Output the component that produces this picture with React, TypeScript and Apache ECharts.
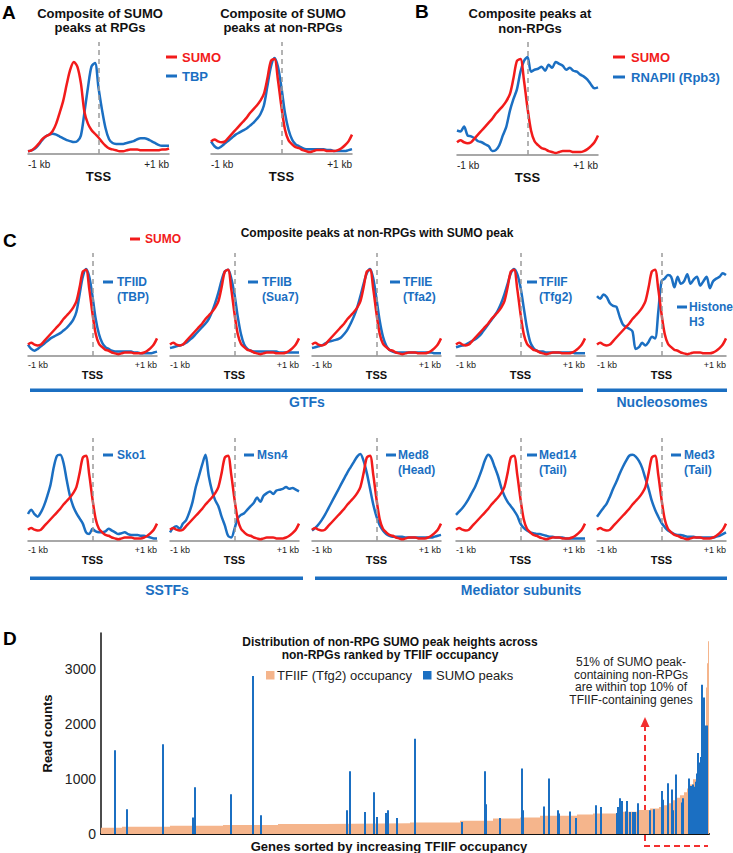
import React, { useEffect, useRef } from "react";
import * as echarts from "echarts";

const FONT = '"Liberation Sans", Arial, Helvetica, sans-serif';
const RED = "#f21b1b";
const BLUE = "#1b6fc2";
const ORANGE = "#f5b58c";

// ---------- composite profiles (position relative to TSS, bp) ----------
const POS_BP = [-1000, -950, -900, -850, -800, -750, -700, -650, -600, -550, -500, -450, -400, -350, -300, -250, -200, -150, -100, -50, 0, 50, 100, 150, 200, 250, 300, 350, 400, 450, 500, 550, 600, 650, 700, 750, 800, 850, 900, 950, 1000];
const TICK_LABELS = ["-1 kb", "+1 kb"];

const SUMO_RPG = [3, 4, 7, 11, 16, 19, 21, 25, 33, 45, 58, 76, 92, 100, 95, 77, 46, 33, 26, 22, 18, 13, 9, 6, 5, 4, 3, 3, 4, 5, 5, 5, 4, 4, 4, 4, 4, 4, 5, 5, 6];
const TBP_RPG = [3, 4, 6, 10, 15, 19, 21, 22, 21, 19, 17, 15, 14, 13, 14, 20, 45, 72, 95, 99, 72, 48, 28, 16, 12, 11, 11, 11, 12, 13, 14, 16, 17, 17, 16, 14, 12, 10, 9, 9, 9];
const SUMO_NONRPG = [13, 15, 13, 12, 13, 17, 21, 25, 29, 33, 37, 42, 46, 50, 55, 62, 78, 96, 98, 76, 48, 25, 14, 10, 7, 6, 4, 3, 2, 3, 4, 4, 4, 3, 3, 3, 4, 6, 9, 13, 20];
const TFIID_TBP = [13, 8, 6, 8, 11, 14, 17, 20, 22, 24, 26, 29, 32, 36, 41, 50, 70, 90, 99, 90, 68, 42, 25, 15, 10, 8, 6, 5, 5, 5, 5, 5, 5, 4, 4, 3, 3, 3, 3, 4, 5];
const RNAPII = [25, 24, 29, 20, 19, 17, 14, 13, 11, 9, 4, 5, 10, 20, 29, 45, 57, 67, 85, 96, 100, 85, 87, 88, 90, 86, 92, 89, 95, 93, 91, 87, 89, 86, 85, 82, 80, 77, 72, 68, 69];
const TFIIB = [9, 10, 11, 12, 13, 15, 18, 21, 25, 29, 33, 37, 42, 50, 60, 72, 86, 96, 98, 88, 70, 45, 25, 13, 8, 6, 5, 5, 5, 5, 5, 5, 5, 5, 4, 4, 4, 4, 4, 4, 4];
const TFIIE = [9, 10, 11, 12, 14, 16, 17, 18, 19, 21, 25, 30, 37, 45, 55, 68, 82, 94, 99, 88, 65, 40, 22, 12, 7, 5, 4, 4, 4, 4, 4, 4, 4, 4, 4, 4, 4, 4, 3, 3, 3];
const TFIIF = [10, 11, 12, 13, 15, 17, 19, 22, 26, 31, 36, 41, 46, 52, 60, 70, 82, 94, 99, 93, 78, 55, 32, 16, 9, 6, 5, 5, 4, 4, 4, 4, 4, 4, 4, 4, 4, 3, 3, 3, 3];
const HISTONE_H3 = [68, 65, 70, 67, 60, 57, 56, 45, 36, 33, 31, 28, 8, 10, 15, 12, 16, 22, 20, 50, 85, 88, 92, 90, 78, 90, 82, 85, 93, 82, 87, 90, 80, 85, 90, 77, 85, 88, 90, 94, 92];
const SKO1 = [31, 36, 31, 28, 33, 41, 52, 65, 85, 98, 99, 90, 70, 52, 40, 32, 26, 20, 10, 8, 14, 11, 10, 10, 11, 14, 12, 10, 8, 9, 10, 8, 7, 7, 7, 6, 6, 5, 4, 3, 3];
const MSN4 = [10, 15, 17, 14, 20, 24, 33, 45, 62, 75, 88, 99, 75, 58, 47, 40, 28, 18, 6, 4, 14, 26, 30, 32, 36, 40, 44, 50, 45, 52, 55, 57, 54, 58, 59, 60, 62, 60, 61, 59, 57];
const MED8 = [12, 15, 19, 24, 30, 37, 44, 51, 58, 65, 72, 79, 85, 91, 97, 100, 92, 78, 60, 42, 28, 18, 12, 8, 6, 5, 5, 5, 5, 4, 4, 4, 4, 4, 4, 4, 4, 4, 5, 6, 7];
const MED14 = [30, 34, 38, 43, 49, 56, 63, 72, 82, 93, 99, 95, 85, 75, 62, 52, 45, 40, 35, 29, 20, 15, 12, 10, 9, 8, 8, 7, 6, 5, 5, 4, 4, 4, 3, 3, 3, 3, 3, 3, 3];
const MED3 = [28, 33, 38, 43, 51, 60, 68, 77, 85, 92, 98, 99, 97, 92, 84, 72, 60, 46, 36, 28, 21, 16, 12, 10, 8, 7, 7, 6, 5, 5, 5, 4, 4, 4, 4, 4, 4, 5, 6, 8, 10];

const PLOT_LABELS = ["TFIID\n(TBP)", "TFIIB\n(Sua7)", "TFIIE\n(Tfa2)", "TFIIF\n(Tfg2)", "Histone\nH3", "Sko1", "Msn4", "Med8\n(Head)", "Med14\n(Tail)", "Med3\n(Tail)"];

// ---------- panel D ----------
const TFIIF_RANK = [0, 21, 69, 122, 177, 224, 309, 359, 392, 419, 439, 476, 492, 516, 536, 549, 558, 562, 567, 572, 576, 579, 583, 586, 589, 592, 595, 597, 599, 601, 603, 604, 605, 606, 607, 608];
const TFIIF_OCC = [114, 132, 150, 163, 181, 193, 211, 241, 283, 301, 331, 356, 373, 404, 434, 464, 490, 524, 560, 615, 660, 705, 760, 826, 900, 995, 1080, 1217, 1350, 1519, 1700, 1940, 2660, 3100, 3500, 3500];
const SUMO_RANK = [14, 26, 62, 92, 94, 130, 152, 160, 246, 249, 264, 273, 276, 285, 287, 296, 314, 361, 384, 385, 399, 421, 422, 443, 448, 457, 458, 469, 475, 495, 500, 516, 517, 519, 521, 525, 526, 529, 532, 534, 537, 549, 553, 561, 562, 567, 571, 572, 575, 581, 582, 588, 589, 590, 592, 593, 594, 595, 596, 597, 598, 599, 600, 601, 602, 603, 604, 605, 606];
const SUMO_PEAK = [1520, 450, 1630, 300, 850, 720, 2870, 340, 430, 1140, 400, 760, 310, 380, 430, 290, 1730, 220, 1140, 540, 290, 1190, 430, 500, 1010, 430, 370, 410, 290, 520, 490, 380, 490, 650, 600, 410, 600, 400, 400, 400, 560, 430, 450, 780, 620, 920, 810, 430, 1080, 570, 650, 1010, 700, 870, 900, 750, 860, 950, 1100, 1470, 1200, 1300, 1400, 2710, 1600, 2480, 1970, 1500, 1970];

const zip = (xs: number[], ys: number[]) => xs.map((x, i) => [x, ys[i]]);

type Plot = { left: number; width: number; top: number; base: number; peak: number; red: number[]; blue: number[]; big: boolean };

const COLS = [28, 170, 312, 456, 597];
const ROW1_BLUE = [TFIID_TBP, TFIIB, TFIIE, TFIIF, HISTONE_H3];
const ROW2_BLUE = [SKO1, MSN4, MED8, MED14, MED3];

const PLOTS: Plot[] = [
  { left: 28, width: 141, top: 42, base: 154, peak: 62, red: SUMO_RPG, blue: TBP_RPG, big: true },
  { left: 211, width: 141, top: 42, base: 154, peak: 57, red: SUMO_NONRPG, blue: TFIID_TBP, big: true },
  { left: 457, width: 141, top: 42, base: 155, peak: 57, red: SUMO_NONRPG, blue: RNAPII, big: true },
  ...COLS.map((l, i) => ({ left: l, width: 129, top: 253, base: 356, peak: 268, red: SUMO_NONRPG, blue: ROW1_BLUE[i], big: false })),
  ...COLS.map((l, i) => ({ left: l, width: 129, top: 438, base: 541, peak: 454, red: SUMO_NONRPG, blue: ROW2_BLUE[i], big: false })),
];

const txt = (x: number, y: number, text: string, size: number, fill: string, bold = false, align = "left", lh?: number) => ({
  type: "text",
  x,
  y,
  silent: true,
  style: { text, fill, font: `${bold ? "bold " : ""}${size}px ${FONT}`, align, verticalAlign: "middle", lineHeight: lh },
});
const dash = (x: number, y: number, fill: string, w = 10) => ({ type: "rect", silent: true, shape: { x, y: y - 1.5, width: w, height: 3 }, style: { fill } });
const bar = (x1: number, x2: number, y: number) => ({ type: "rect", silent: true, shape: { x: x1, y: y - 1.5, width: x2 - x1, height: 3.5 }, style: { fill: BLUE } });

function buildOption() {
  const grid: any[] = [];
  const xAxis: any[] = [];
  const yAxis: any[] = [];
  const series: any[] = [];

  PLOTS.forEach((p, i) => {
    grid.push({ left: p.left, top: p.top, width: p.width, height: p.base - p.top, outerBoundsMode: "none" });
    xAxis.push({
      gridIndex: i,
      type: "value",
      min: -1000,
      max: 1000,
      interval: 2000,
      axisLine: { show: true, lineStyle: { color: "#8c8c8c", width: 1.5 } },
      axisTick: { show: false },
      splitLine: { show: false },
      axisLabel: {
        show: true,
        fontSize: p.big ? 10 : 9,
        color: "#222",
        fontFamily: FONT,
        margin: p.big ? 5 : 4,
        alignMinLabel: "left",
        alignMaxLabel: "right",
        formatter: (v: number) => (v < 0 ? TICK_LABELS[0] : v > 0 ? TICK_LABELS[1] : ""),
      },
      name: "TSS",
      nameLocation: "middle",
      nameGap: p.big ? 13 : 12,
      nameTextStyle: { fontWeight: "bold", fontSize: p.big ? 13 : 11, color: "#111", fontFamily: FONT },
    });
    yAxis.push({ gridIndex: i, type: "value", min: 0, max: (100 * (p.base - p.top)) / (p.base - p.peak), show: false });
    series.push({
      type: "line",
      xAxisIndex: i,
      yAxisIndex: i,
      data: zip(POS_BP, p.blue),
      smooth: 0.3,
      symbol: "none",
      clip: false,
      lineStyle: { color: BLUE, width: 2.5 },
      markLine: {
        silent: true,
        symbol: ["none", "none"],
        label: { show: false },
        lineStyle: { color: "#9a9a9a", type: [5, 4], width: 1.5 },
        data: [{ xAxis: 0 }],
      },
      z: 2,
    });
    series.push({
      type: "line",
      xAxisIndex: i,
      yAxisIndex: i,
      data: zip(POS_BP, p.red),
      smooth: 0.3,
      symbol: "none",
      clip: false,
      lineStyle: { color: RED, width: 2.5 },
      z: 3,
    });
  });

  const di = PLOTS.length;
  grid.push({ left: 101, top: 633, width: 608, height: 201, outerBoundsMode: "none" });
  xAxis.push({
    gridIndex: di,
    type: "value",
    min: 0,
    max: 608,
    axisLine: { show: true, lineStyle: { color: "#111", width: 2 } },
    axisTick: { show: false },
    axisLabel: { show: false },
    splitLine: { show: false },
  });
  yAxis.push({
    gridIndex: di,
    type: "value",
    min: 0,
    max: 3650,
    interval: 1000,
    axisLine: { show: true, lineStyle: { color: "#111", width: 1.5 } },
    axisTick: { show: false },
    splitLine: { show: false },
    axisLabel: { fontSize: 14, color: "#222", fontFamily: FONT, margin: 5, showMaxLabel: false, formatter: (v: number) => String(v) },
    name: "Read counts",
    nameLocation: "middle",
    nameGap: 44,
    nameTextStyle: { fontWeight: "bold", fontSize: 13, color: "#111", fontFamily: FONT },
  });
  series.push({
    type: "line",
    name: "TFIIF (Tfg2) occupancy",
    xAxisIndex: di,
    yAxisIndex: di,
    data: zip(TFIIF_RANK, TFIIF_OCC),
    step: "end",
    symbol: "none",
    lineStyle: { width: 0, color: ORANGE },
    areaStyle: { color: ORANGE, opacity: 1 },
    z: 1,
  });
  series.push({
    type: "bar",
    name: "SUMO peaks",
    xAxisIndex: di,
    yAxisIndex: di,
    data: zip(SUMO_RANK, SUMO_PEAK),
    barWidth: 2,
    itemStyle: { color: BLUE },
    z: 2,
  });

  // ---------- graphic annotations ----------
  const g: any[] = [];
  g.push(txt(2, 12, "A", 19, "#000", true));
  g.push(txt(415, 11, "B", 19, "#000", true));
  g.push(txt(3, 240, "C", 19, "#000", true));
  g.push(txt(3, 638, "D", 19, "#000", true));
  g.push(txt(100, 20, "Composite of SUMO\npeaks at RPGs", 13, "#111", true, "center", 14));
  g.push(txt(283, 20, "Composite of SUMO\npeaks at non-RPGs", 13, "#111", true, "center", 14));
  g.push(txt(530, 20.5, "Composite peaks at\nnon-RPGs", 13, "#111", true, "center", 15));
  g.push(dash(166, 57, RED, 11), txt(182, 57, "SUMO", 13, RED, true));
  g.push(dash(166, 76, BLUE, 11), txt(182, 76, "TBP", 13, BLUE, true));
  g.push(dash(613, 57, RED, 12), txt(631, 57, "SUMO", 13, RED, true));
  g.push(dash(613, 77, BLUE, 12), txt(631, 77, "RNAPII (Rpb3)", 13, BLUE, true));
  g.push(dash(130, 239, RED, 10), txt(145, 239, "SUMO", 12, RED, true));
  g.push(txt(377, 233, "Composite peaks at non-RPGs with SUMO peak", 12, "#111", true, "center"));
  const lab = [
    { d: 103, t: 117, y: 282 },
    { d: 248, t: 262, y: 282 },
    { d: 390, t: 403, y: 282 },
    { d: 527, t: 539, y: 282 },
    { d: 677, t: 689, y: 307 },
    { d: 103, t: 117, y: 455 },
    { d: 244, t: 257, y: 455 },
    { d: 386, t: 398, y: 455 },
    { d: 527, t: 539, y: 455 },
    { d: 671, t: 684, y: 455 },
  ];
  lab.forEach((l, i) => {
    const s = PLOT_LABELS[i];
    const n = s.split("\n").length;
    g.push(dash(l.d, l.y, BLUE, 10));
    g.push(txt(l.t, l.y + ((n - 1) * 14.5) / 2, s, 12, BLUE, true, "left", 14.5));
  });
  g.push(bar(30, 583, 390), txt(307, 402, "GTFs", 14, BLUE, true, "center"));
  g.push(bar(597, 727, 390), txt(662, 402, "Nucleosomes", 14, BLUE, true, "center"));
  g.push(bar(30, 303, 578), txt(167, 590, "SSTFs", 14, BLUE, true, "center"));
  g.push(bar(315, 727, 578), txt(521, 590, "Mediator subunits", 14, BLUE, true, "center"));
  g.push(txt(390, 648.5, "Distribution of non-RPG SUMO peak heights across\nnon-RPGs ranked by TFIIF occupancy", 12, "#111", true, "center", 13));
  g.push({ type: "rect", silent: true, shape: { x: 266, y: 671, width: 8.5, height: 8.5 }, style: { fill: ORANGE } });
  g.push(txt(277, 675.5, "TFIIF (Tfg2) occupancy", 13, "#222"));
  g.push({ type: "rect", silent: true, shape: { x: 423, y: 671, width: 8.5, height: 8.5 }, style: { fill: BLUE } });
  g.push(txt(436, 675.5, "SUMO peaks", 13, "#222"));
  g.push(txt(631, 681, "51% of SUMO peak-\ncontaining non-RPGs\nare within top 10% of\nTFIIF-containing genes", 12, "#222", false, "center", 12.7));
  g.push(txt(389, 846, "Genes sorted by increasing TFIIF occupancy", 13, "#111", true, "center"));
  g.push({
    type: "polyline",
    silent: true,
    shape: { points: [[645, 725], [645, 846], [708, 846]] },
    style: { stroke: "#f23030", lineWidth: 2, lineDash: [6, 4], fill: null },
  });
  g.push({ type: "polygon", silent: true, shape: { points: [[640.5, 727], [649.5, 727], [645, 717]] }, style: { fill: "#f23030" } });

  return {
    animation: false,
    backgroundColor: "#fff",
    textStyle: { fontFamily: FONT },
    grid,
    xAxis,
    yAxis,
    series,
    graphic: g,
  };
}

export default function App() {
  const ref = useRef<HTMLDivElement>(null);
  useEffect(() => {
    if (!ref.current) return;
    const chart = echarts.init(ref.current, null, { renderer: "svg" });
    chart.setOption(buildOption() as any);
    return () => chart.dispose();
  }, []);
  return <div ref={ref} style={{ position: "absolute", left: 0, top: 0, width: 733, height: 853, background: "#fff" }} />;
}
